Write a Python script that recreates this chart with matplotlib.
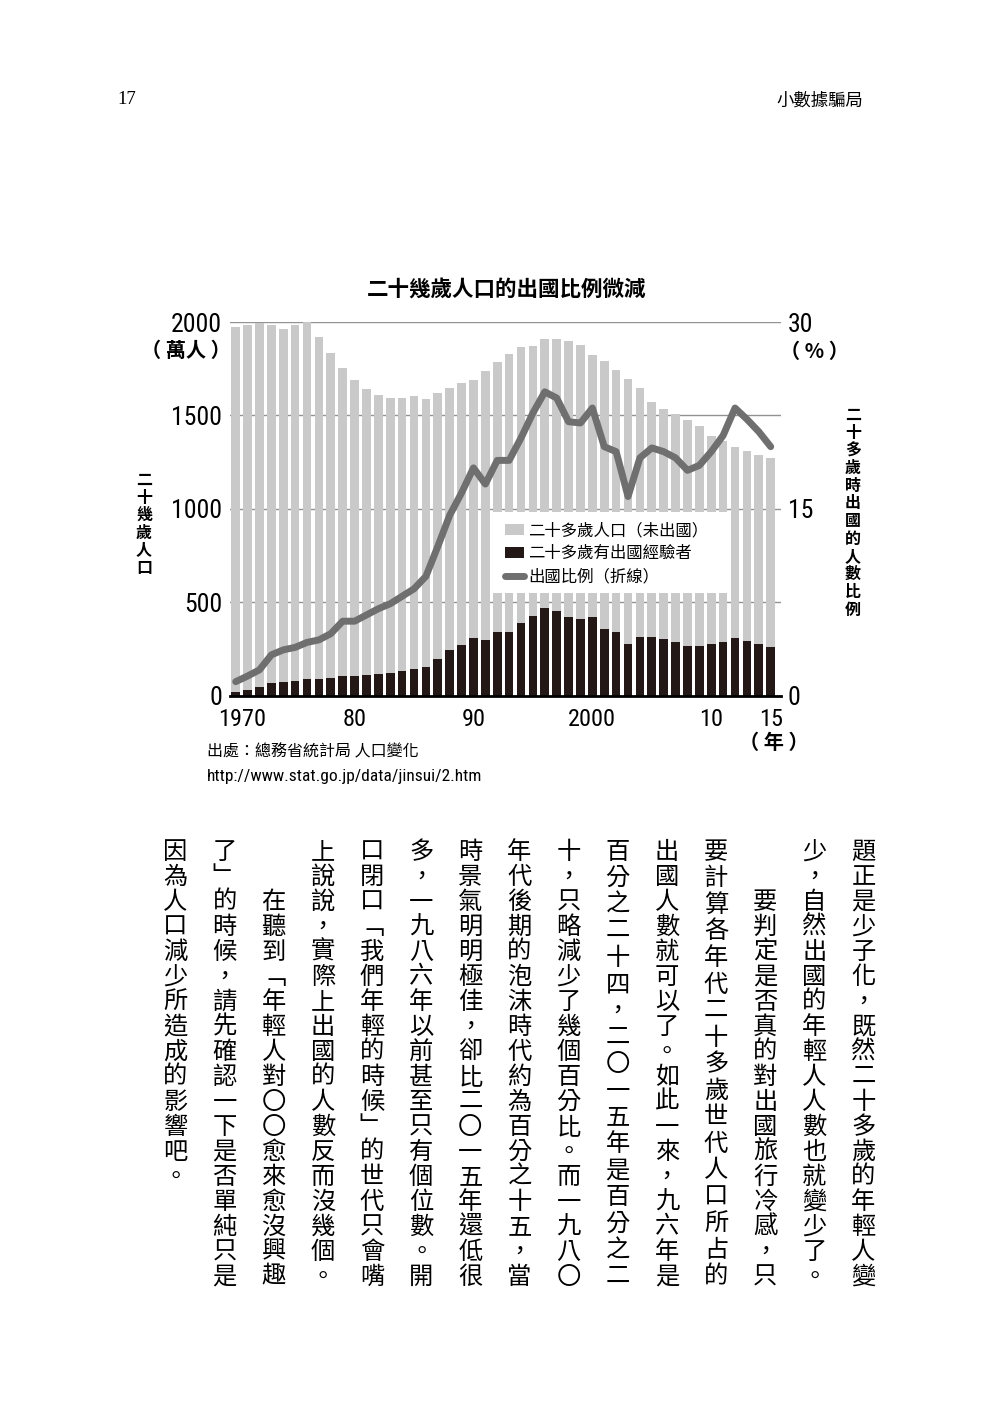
"""Book page: bar + line chart of Japanese twenty-somethings going abroad, with vertical body text."""
import matplotlib
matplotlib.use("Agg")
import matplotlib.pyplot as plt
from matplotlib import font_manager
from matplotlib.font_manager import FontProperties
from matplotlib.lines import Line2D
from matplotlib.patches import Patch, Rectangle
from matplotlib.transforms import ScaledTranslation

# ---- data ----
years = list(range(1970, 2016))
# 20-29 population, 10k persons
pop_total = [1975, 1984, 1995, 1984, 1965, 1984, 2000, 1922, 1835, 1755,
             1691, 1643, 1611, 1595, 1595, 1603, 1587, 1621, 1648, 1676,
             1692, 1739, 1785, 1830, 1865, 1870, 1911, 1908, 1901, 1879,
             1826, 1790, 1744, 1696, 1648, 1571, 1534, 1506, 1477, 1443,
             1393, 1361, 1333, 1312, 1291, 1275]
# of which have been abroad, 10k persons
pop_abroad = [23, 34, 48, 69, 76, 80, 89, 92, 98, 108,
              107, 110, 117, 121, 132, 144, 157, 196, 244, 274,
              311, 299, 341, 343, 388, 429, 468, 455, 420, 411,
              423, 359, 343, 276, 315, 313, 303, 288, 267, 269,
              276, 287, 308, 292, 276, 260]
# share going abroad, %
ratio = [1.15, 1.6, 2.1, 3.3, 3.7, 3.9, 4.3, 4.5, 5.0, 6.0,
         6.0, 6.5, 7.0, 7.4, 8.0, 8.6, 9.6, 12.0, 14.5, 16.3,
         18.3, 17.0, 18.9, 18.9, 20.7, 22.7, 24.4, 23.9, 22.0, 21.9,
         23.1, 20.0, 19.6, 16.0, 19.1, 19.9, 19.6, 19.1, 18.1, 18.5,
         19.6, 20.9, 23.1, 22.2, 21.2, 20.0]

xticks = [1970, 1980, 1990, 2000, 2010, 2015]
xtick_labels = ["1970", "80", "90", "2000", "10", "15"]
left_ticks = [0, 500, 1000, 1500, 2000]
right_ticks = [0, 15, 30]

title = "二十幾歲人口的出國比例微減"
left_label = "二十幾歲人口"
right_label = "二十多歲時出國的人數比例"
legend_labels = ["二十多歲人口（未出國）", "二十多歲有出國經驗者", "出國比例（折線）"]
source_lines = ["出處：總務省統計局 人口變化", "http://www.stat.go.jp/data/jinsui/2.htm"]

body_columns = [
    "題正是少子化，既然二十多歲的年輕人變",
    "少，自然出國的年輕人人數也就變少了。",
    "　　要判定是否真的對出國旅行冷感，只",
    "要計算各年代二十多歲世代人口所占的",
    "出國人數就可以了。如此一來，九六年是",
    "百分之二十四，二〇一五年是百分之二",
    "十，只略減少了幾個百分比。而一九八〇",
    "年代後期的泡沫時代約為百分之十五，當",
    "時景氣明明極佳，卻比二〇一五年還低很",
    "多，一九八六年以前甚至只有個位數。開",
    "口閉口「我們年輕的時候」的世代只會嘴",
    "上說說，實際上出國的人數反而沒幾個。",
    "　　在聽到「年輕人對〇〇愈來愈沒興趣",
    "了」的時候，請先確認一下是否單純只是",
    "因為人口減少所造成的影響吧。",
]

# ---- fonts ----
CJK = "Noto Sans CJK TC"
SERIF = "Liberation Serif"


def find_narrow():
    prefs = ["robotocondensed", "liberationsansnarrow", "dejavusanscondensed.ttf",
             "opensanscondensed", "opensans_condensed"]
    files = [f.fname for f in font_manager.fontManager.ttflist]
    for p in prefs:
        for fn in files:
            name = fn.lower().replace(" ", "").replace("-", "")
            if p.replace("-", "") in name and "bold" not in name and "italic" not in name \
                    and "light" not in name and "oblique" not in name:
                return fn
    return None


NARROW_FILE = find_narrow()


def narrow(size):
    if NARROW_FILE:
        return FontProperties(fname=NARROW_FILE, size=size)
    return FontProperties(family="Liberation Sans", size=size * 0.82)


GRAY = "#c9c9c9"
BLACK = "#231815"
LINE = "#6f6f6f"

W, H = 1000, 1403


def fx(x):
    return x / W


def fy(y):
    return 1 - y / H


fig = plt.figure(figsize=(W / 100, H / 100), dpi=100, facecolor="white")

# ---- chart ----
ax = fig.add_axes([fx(230), fy(696), (781 - 230) / W, (696 - 322) / H])
rest = [t - a for t, a in zip(pop_total, pop_abroad)]
ax.bar(years, pop_abroad, width=0.73, color=BLACK, zorder=2)
ax.bar(years, rest, bottom=pop_abroad, width=0.73, color=GRAY, zorder=2)
ax.set_xlim(1970 - 5.7 / 11.89, 2015 + 10.3 / 11.89)
ax.set_ylim(0, 2000)
ax.set_yticks(left_ticks)
ax.set_yticklabels([str(v) for v in left_ticks], fontproperties=narrow(18.5))
ax.set_xticks(xticks)
ax.set_xticklabels(xtick_labels, fontproperties=narrow(17.5))
ax.tick_params(axis="y", length=0, pad=5.8)
ax.tick_params(axis="x", length=0, pad=9)
ax.grid(axis="y", color="#929292", lw=1)
ax.set_axisbelow(True)
for s in ax.spines.values():
    s.set_visible(False)
ax.axhline(0, color="black", lw=2, zorder=3, clip_on=False)
lbl = ax.get_xticklabels()[0]
lbl.set_transform(lbl.get_transform() + ScaledTranslation(6 / 100, 0, fig.dpi_scale_trans))

ax2 = ax.twinx()
ax2.plot(years, ratio, color=LINE, lw=5, solid_capstyle="round", zorder=3)
ax2.set_ylim(0, 30)
ax2.set_yticks(right_ticks)
ax2.set_yticklabels([str(v) for v in right_ticks], fontproperties=narrow(18.5))
ax2.tick_params(axis="y", length=0, pad=5)
for s in ax2.spines.values():
    s.set_visible(False)

# legend on a white card
ax2.add_patch(Rectangle((0.477, 0.2754), 0.4265, 0.2166, transform=ax2.transAxes,
                        facecolor="white", edgecolor="none", zorder=5))
handles = [Patch(facecolor=GRAY), Patch(facecolor=BLACK),
           Line2D([0], [0], color=LINE, lw=5, solid_capstyle="round")]
leg = ax2.legend(handles, legend_labels, loc="upper left", bbox_to_anchor=(0.499, 0.465),
                 frameon=False, borderpad=0, borderaxespad=0, handlelength=1.15,
                 handleheight=0.6, handletextpad=0.25, labelspacing=0.38,
                 prop=dict(family=CJK, size=11.8, weight="medium"))
leg.set_zorder(6)

fig.text(fx(507), fy(289), title, ha="center", va="center", family=CJK,
         weight="bold", fontsize=15.5)
fig.text(fx(186), fy(350), "（ 萬人 ）", ha="center", va="center", family=CJK,
         weight="bold", fontsize=14.5)
fig.text(fx(814), fy(351), "（ % ）", ha="center", va="center", family=[CJK, "DejaVu Sans"],
         weight="bold", fontsize=14.5)
fig.text(fx(774), fy(742), "（ 年 ）", ha="center", va="center", family=CJK,
         weight="bold", fontsize=14.5)


def vertical(x, y0, pitch, chars, **kw):
    swap = {"「": "\ufe41", "」": "\ufe42"}
    for i, ch in enumerate(chars):
        if ch == "　":
            continue
        fig.text(fx(x), fy(y0 + i * pitch), swap.get(ch, ch), ha="center", va="center", **kw)


vertical(144, 480, 17.6, left_label, family=CJK, weight="bold", fontsize=11.5)
vertical(853, 415, 17.7, right_label, family=CJK, weight="bold", fontsize=11.5)

fig.text(fx(207), fy(752), source_lines[0], ha="left", va="center", family=CJK, fontsize=11.5)
fig.text(fx(207), fy(776), source_lines[1], ha="left", va="center", fontproperties=narrow(12.5))

# ---- page header ----
fig.text(fx(117), fy(100), "17", ha="left", va="center", family=SERIF, fontsize=13.5)
fig.text(fx(863), fy(101), "小數據騙局", ha="right", va="center", family=CJK, fontsize=12.5)

# ---- vertical body text, right to left ----
top, bottom, per_col = 851.7, 1276.7, 18
for k, col in enumerate(body_columns):
    x = 863.5 - 49.15 * k
    last = k == len(body_columns) - 1
    if len(col) < per_col and not last:
        pitch = (bottom - top) / (len(col) - 1)
    else:
        pitch = (bottom - top) / (per_col - 1)
    vertical(x, top, pitch, col, family=CJK, weight="light", fontsize=17.5)

fig.savefig("out.png", dpi=100, facecolor="white")
plt.close(fig)
